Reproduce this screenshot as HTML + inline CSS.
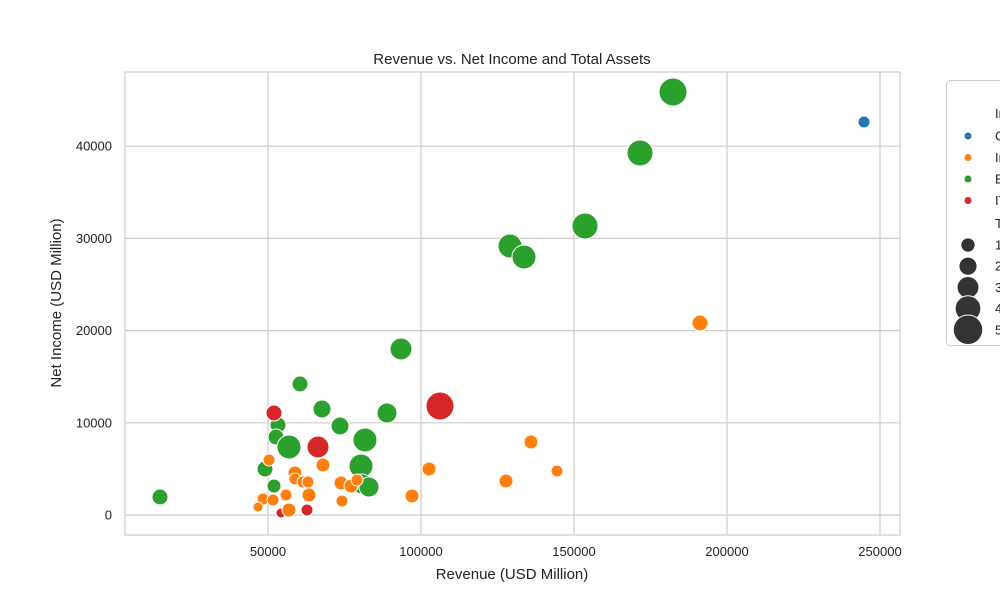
<!DOCTYPE html>
<html><head><meta charset="utf-8"><style>
body{margin:0;background:#fff}
svg{display:block;font-family:"Liberation Sans",sans-serif}
</style></head><body>
<svg id="chart" width="1000" height="600" viewBox="0 0 1000 600">
<text x="512" y="64" text-anchor="middle" font-size="15" fill="#222">Revenue vs. Net Income and Total Assets</text>
<g id="grid"></g>
<rect x="125" y="72" width="775" height="463" fill="none" stroke="#ccc" stroke-width="1.2"/>
<g id="points"></g>
<g id="ticks"></g>
<text x="512" y="579" text-anchor="middle" font-size="15" fill="#222">Revenue (USD Million)</text>
<text transform="translate(61,303) rotate(-90)" text-anchor="middle" font-size="15" fill="#222">Net Income (USD Million)</text>
<g id="legend"></g>
</svg>
<script>
const industries = ["C","I","E","I2"];
const industryLabels = ["Consumer","Industrial","Energy","IT"];
const colors = ["#1f77b4","#ff7f0e","#2ca02c","#d62728"];
const revenue = [244773,14706,53268,52615,56863,60458,67648,73530,88890,81700,80393,80720,83007,49020,51961,93465,129086,133661,153596,171570,182354,51961,66340,106210,54249,62746,191178,135949,144446,127779,102615,97060,67974,50327,58824,58824,61438,63072,73857,77125,79086,48366,51634,55883,63399,46732,56863,74184];
const netIncome = [42625,1952,9761,8460,7375,14208,11497,9653,11063,8135,5315,3362,3037,4989,3145,18004,29176,27983,31345,39263,45879,11063,7375,11822,217,542,20824,7918,4772,3688,4989,2061,5423,5965,4555,3905,3579,3579,3471,3145,3796,1735,1627,2169,2169,868,542,1518];
const totalAssets = [50000,150000,150000,150000,350000,150000,200000,200000,250000,350000,350000,250000,250000,150000,100000,300000,350000,350000,400000,400000,450000,150000,300000,450000,0,50000,150000,100000,50000,100000,100000,100000,100000,50000,100000,50000,50000,50000,100000,100000,50000,50000,50000,50000,100000,0,100000,50000];
const industryIdx = [0,2,2,2,2,2,2,2,2,2,2,2,2,2,2,2,2,2,2,2,2,3,3,3,3,3,1,1,1,1,1,1,1,1,1,1,1,1,1,1,1,1,1,1,1,1,1,1];
const xTicks = [50000,100000,150000,200000,250000];
const yTicks = [0,10000,20000,30000,40000];
const sizeLegend = [100000,200000,300000,400000,500000];

const NS="http://www.w3.org/2000/svg";
const X=v=>115+v/50000*153;
const Y=v=>515-v/10000*92.2;
const R=a=>5+a/100000*2;
function mk(tag,attrs,parent){const e=document.createElementNS(NS,tag);for(const k in attrs)e.setAttribute(k,attrs[k]);parent.appendChild(e);return e;}
const grid=document.getElementById('grid'),ticks=document.getElementById('ticks'),pts=document.getElementById('points'),leg=document.getElementById('legend');
xTicks.forEach(t=>{
  const l=mk('line',{x1:X(t),x2:X(t),y1:72,y2:535,stroke:'#ccc','stroke-width':1.2},grid);
  
  
  const tx=mk('text',{x:X(t),y:556,'text-anchor':'middle','font-size':13,fill:'#222'},ticks);
  tx.textContent=t;
  
  
});
yTicks.forEach(t=>{
  const l=mk('line',{x1:125,x2:900,y1:Y(t),y2:Y(t),stroke:'#ccc','stroke-width':1.2},grid);
  
  
  const tx=mk('text',{x:112,y:Y(t)+4.5,'text-anchor':'end','font-size':13,fill:'#222'},ticks);
  tx.textContent=t;
  
  
});
revenue.forEach((r,i)=>{
  const c=mk('circle',{cx:X(r),cy:Y(netIncome[i]),r:R(totalAssets[i]),fill:colors[industryIdx[i]],stroke:'#fff','stroke-width':1},pts);
  
  
});
const box=mk('rect',{x:946.5,y:80.5,width:80,height:265,rx:4,fill:'#fff',stroke:'#ccc'},leg);


const t1=mk('text',{x:995,y:118,'font-size':13,fill:'#222'},leg);t1.textContent='Industry';


industryLabels.forEach((lab,i)=>{
  const y=136+i*21.5;
  const c=mk('circle',{cx:968,cy:y,r:3.5,fill:colors[i]},leg);
  
  
  const t=mk('text',{x:995,y:y+4.5,'font-size':13,fill:'#222'},leg);t.textContent=lab;
  
  
});
const t2=mk('text',{x:995,y:228,'font-size':13,fill:'#222'},leg);t2.textContent='Total Assets';


sizeLegend.forEach((s,i)=>{
  const y=245+i*21.2;
  const c=mk('circle',{cx:968,cy:y,r:R(s)*0.95+0.5,fill:'#333',stroke:'#fff','stroke-width':1},leg);
  
  
  const t=mk('text',{x:995,y:y+4.5,'font-size':13,fill:'#222'},leg);t.textContent=s;
  
  
});
</script>
</body></html>
